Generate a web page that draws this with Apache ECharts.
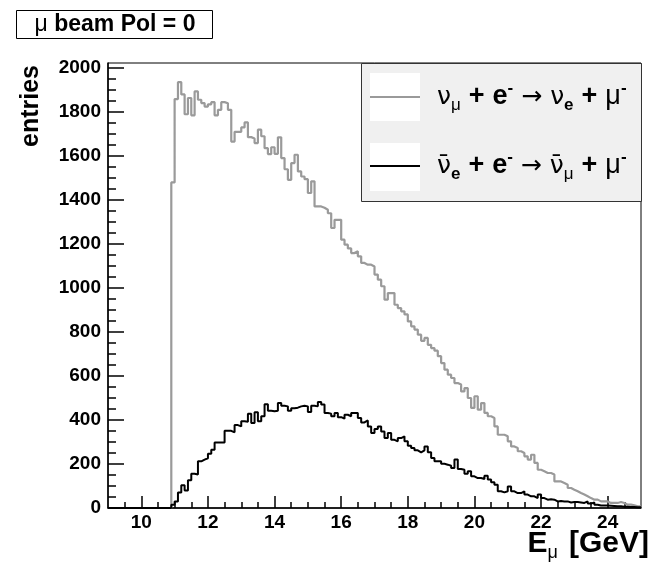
<!DOCTYPE html>
<html><head><meta charset="utf-8">
<script src="https://cdn.jsdelivr.net/npm/echarts@6/dist/echarts.min.js"></script>
<style>html,body{margin:0;padding:0;background:#fff}#c{width:653px;height:569px}</style>
</head><body><div id="c"></div>
<script>
// Histogram binning (GeV)
const binStart = 9.0;
const binWidth = 0.1;
// nu_mu + e- -> nu_e + mu-  (bins from 9.0 to 25.0)
const numuCounts = [
  0,0,0,0,0,0,0,0,0,0, 0,0,0,0,0,0,0,0,0,
  1480,1859,1936,1880,1790,1864,1785,1894,1856,1841,
  1825,1835,1845,1785,1810,1845,1840,1810,1666,1710,
  1710,1730,1753,1686,1680,1659,1720,1690,1636,1609,
  1640,1610,1685,1591,1540,1492,1568,1606,1530,1507,
  1495,1432,1485,1371,1371,1365,1356,1340,1273,1310,
  1310,1220,1197,1180,1159,1167,1144,1114,1106,1106,
  1098,1061,1038,1008,947,977,977,924,909,894,
  880,848,826,811,788,760,773,742,727,715,
  690,659,629,606,591,568,561,530,545,500,
  455,508,447,477,432,417,409,371,333,333,
  326,303,280,273,258,250,235,220,242,205,
  174,167,159,159,152,121,121,114,106,91,
  83,76,68,61,53,45,38,38,30,30,
  30,23,23,23,27,23,15,15,12,8,8
];
// nu_e-bar + e- -> nu_mu-bar + mu-
const nuebarCounts = [
  0,0,0,0,0,0,0,0,0,0, 0,0,0,0,0,0,0,0,0,
  15,30,71,103,80,126,156,152,212,220,
  226,247,265,298,298,298,351,351,344,377,
  371,394,392,429,386,435,394,417,472,442,
  440,442,477,465,462,442,453,456,462,465,
  462,436,465,462,482,470,432,429,417,432,
  413,406,424,417,432,432,409,389,398,371,
  341,359,371,348,318,341,310,303,318,326,
  303,283,273,262,253,262,280,253,227,212,
  212,201,197,192,182,220,177,174,156,167,
  144,136,136,132,147,129,117,106,76,71,
  76,98,76,68,68,76,61,53,53,45,
  61,45,38,40,38,30,32,30,30,25,
  27,27,25,23,30,20,25,15,11,11,
  11,10,9,8,8,6,6,5,4,3,3
];
const xMin = 9, xMax = 25, yMin = 0, yMax = 2023;
const xMajorTicks = [10,12,14,16,18,20,22,24];
const xMinorTicks = [9.5,10,10.5,11,11.5,12,12.5,13,13.5,14,14.5,15,15.5,16,16.5,17,17.5,18,18.5,19,19.5,20,20.5,21,21.5,22,22.5,23,23.5,24,24.5];
const yMajorTicks = [0,200,400,600,800,1000,1200,1400,1600,1800,2000];
const yMinorTicks = [50,100,150,250,300,350,450,500,550,650,700,750,850,900,950,1050,1100,1150,1250,1300,1350,1450,1500,1550,1650,1700,1750,1850,1900,1950];
const legendNames = ['numu', 'nuebar'];

function histPoints(counts) {
  const pts = counts.map((v, i) => [+(binStart + i * binWidth).toFixed(3), v]);
  pts.push([+(binStart + counts.length * binWidth).toFixed(3), counts[counts.length - 1]]);
  return pts;
}

const FONT = "'Liberation Sans', Arial, Helvetica, sans-serif";
const DV = "'DejaVu Sans', sans-serif";
const tickLabel = { fontFamily: FONT, fontWeight: 'bold', fontSize: 19, color: '#000', formatter: (v) => String(v) };

const chart = echarts.init(document.getElementById('c'), null, { renderer: 'canvas' });

const legRich = {
  g: { fontFamily: DV, fontSize: 25, fontWeight: 'normal', lineHeight: 34, color: '#000' },
  m: { fontFamily: FONT, fontSize: 27, fontWeight: 'normal', lineHeight: 34, color: '#000' },
  b: { fontFamily: FONT, fontSize: 27, fontWeight: 'bold', lineHeight: 34, color: '#000' },
  w: { fontFamily: FONT, fontSize: 27, width: 8, lineHeight: 34 },
  a: { fontFamily: DV, fontSize: 25, fontWeight: 'normal', lineHeight: 34, color: '#000' },
  s: { fontFamily: FONT, fontSize: 17, fontWeight: 'normal', lineHeight: 16, verticalAlign: 'bottom', color: '#000' },
  sb: { fontFamily: FONT, fontSize: 17, fontWeight: 'bold', lineHeight: 16, verticalAlign: 'bottom', color: '#000' },
  p: { fontFamily: FONT, fontSize: 17, fontWeight: 'bold', lineHeight: 20, verticalAlign: 'top', color: '#000' }
};

chart.setOption({
  animation: false,
  backgroundColor: '#fff',
  grid: { left: 108, right: 12, top: 63, bottom: 61, show: true, borderColor: '#000', borderWidth: 1, backgroundColor: 'transparent' },
  xAxis: [
    { type: 'value', min: xMin, max: xMax, position: 'bottom',
      axisLine: { show: true, onZero: false, lineStyle: { color: '#000', width: 1.5 } },
      axisTick: { show: true, inside: true, length: 12, customValues: xMajorTicks, lineStyle: { color: '#000', width: 1.5 } },
      axisLabel: Object.assign({ customValues: xMajorTicks, margin: 5 }, tickLabel),
      splitLine: { show: false } },
    { type: 'value', min: xMin, max: xMax, position: 'bottom', offset: 0,
      axisLine: { show: false },
      axisTick: { show: true, inside: true, length: 6, customValues: xMinorTicks, lineStyle: { color: '#000', width: 1.5 } },
      axisLabel: { show: false }, splitLine: { show: false } }
  ],
  yAxis: [
    { type: 'value', min: yMin, max: yMax, position: 'left',
      axisLine: { show: true, onZero: false, lineStyle: { color: '#000', width: 1.5 } },
      axisTick: { show: true, inside: true, length: 16, customValues: yMajorTicks, lineStyle: { color: '#000', width: 1.5 } },
      axisLabel: Object.assign({ customValues: yMajorTicks, margin: 7 }, tickLabel),
      splitLine: { show: false } },
    { type: 'value', min: yMin, max: yMax, position: 'left', offset: 0,
      axisLine: { show: false },
      axisTick: { show: true, inside: true, length: 8, customValues: yMinorTicks, lineStyle: { color: '#000', width: 1.5 } },
      axisLabel: { show: false }, splitLine: { show: false } }
  ],
  series: [
    { name: legendNames[0], type: 'line', step: 'end', xAxisIndex: 0, yAxisIndex: 0, showSymbol: false, symbol: 'none',
      lineStyle: { color: '#9a9a9a', width: 2.2 }, data: histPoints(numuCounts), z: 3 },
    { name: legendNames[1], type: 'line', step: 'end', xAxisIndex: 0, yAxisIndex: 0, showSymbol: false, symbol: 'none',
      lineStyle: { color: '#000000', width: 2 }, data: histPoints(nuebarCounts), z: 4 }
  ],
  graphic: [
    // title box
    { type: 'rect', shape: { x: 16.5, y: 10.5, width: 196, height: 28 }, style: { fill: '#fff', stroke: '#000', lineWidth: 1 }, z: 10 },
    { type: 'text', x: 115, y: 25, z: 11, style: {
        text: '{m|μ} {t|beam Pol = 0}', align: 'center', verticalAlign: 'middle',
        rich: { m: { fontFamily: FONT, fontSize: 23, fontWeight: 'normal', color: '#000' },
                t: { fontFamily: FONT, fontSize: 23, fontWeight: 'bold', color: '#000' } },
        fontFamily: FONT, fontSize: 23, fontWeight: 'bold' } },
    // y-axis title
    { type: 'text', x: 31, y: 65, rotation: Math.PI / 2, z: 11, style: {
        text: 'entries', align: 'right', verticalAlign: 'middle', fontFamily: FONT, fontSize: 25, fontWeight: 'bold', fill: '#000' } },
    // x-axis title
    { type: 'text', x: 649, y: 544, z: 11, style: {
        text: '{E|E}{u|μ}{w| }{E|[GeV]}', align: 'right', verticalAlign: 'middle',
        rich: { E: { fontFamily: FONT, fontSize: 30, fontWeight: 'bold', lineHeight: 36, color: '#000' },
                w: { fontFamily: FONT, fontSize: 30, width: 11, lineHeight: 36 },
                u: { fontFamily: FONT, fontSize: 18, fontWeight: 'normal', lineHeight: 16, verticalAlign: 'bottom', color: '#000' } },
        fontFamily: FONT, fontSize: 30, fontWeight: 'bold' } },
    // legend
    { type: 'rect', shape: { x: 361.5, y: 63.5, width: 280, height: 138 }, style: { fill: '#f0f0f0', stroke: '#333', lineWidth: 1 }, z: 10 },
    { type: 'rect', shape: { x: 370, y: 73, width: 50, height: 48 }, style: { fill: '#fff', lineWidth: 0 }, z: 11 },
    { type: 'line', shape: { x1: 370, y1: 97, x2: 420, y2: 97 }, style: { stroke: '#9a9a9a', lineWidth: 2 }, z: 12 },
    { type: 'rect', shape: { x: 370, y: 143, width: 50, height: 48 }, style: { fill: '#fff', lineWidth: 0 }, z: 11 },
    { type: 'line', shape: { x1: 370, y1: 166, x2: 420, y2: 166 }, style: { stroke: '#000', lineWidth: 2 }, z: 12 },
    { type: 'text', x: 437, y: 97, z: 12, style: {
        text: '{g|ν}{s|μ}{w| }{b|+}{w| }{b|e}{p|-}{w| }{a|→}{w| }{g|ν}{sb|e}{w| }{b|+}{w| }{m|μ}{p|-}', align: 'left', verticalAlign: 'middle', rich: legRich,
        fontFamily: FONT, fontSize: 27 } },
    { type: 'text', x: 437, y: 166, z: 12, style: {
        text: '{g|ν\u0304}{sb|e}{w| }{b|+}{w| }{b|e}{p|-}{w| }{a|→}{w| }{g|ν\u0304}{s|μ}{w| }{b|+}{w| }{m|μ}{p|-}', align: 'left', verticalAlign: 'middle', rich: legRich,
        fontFamily: FONT, fontSize: 27 } }
  ]
});
</script></body></html>
